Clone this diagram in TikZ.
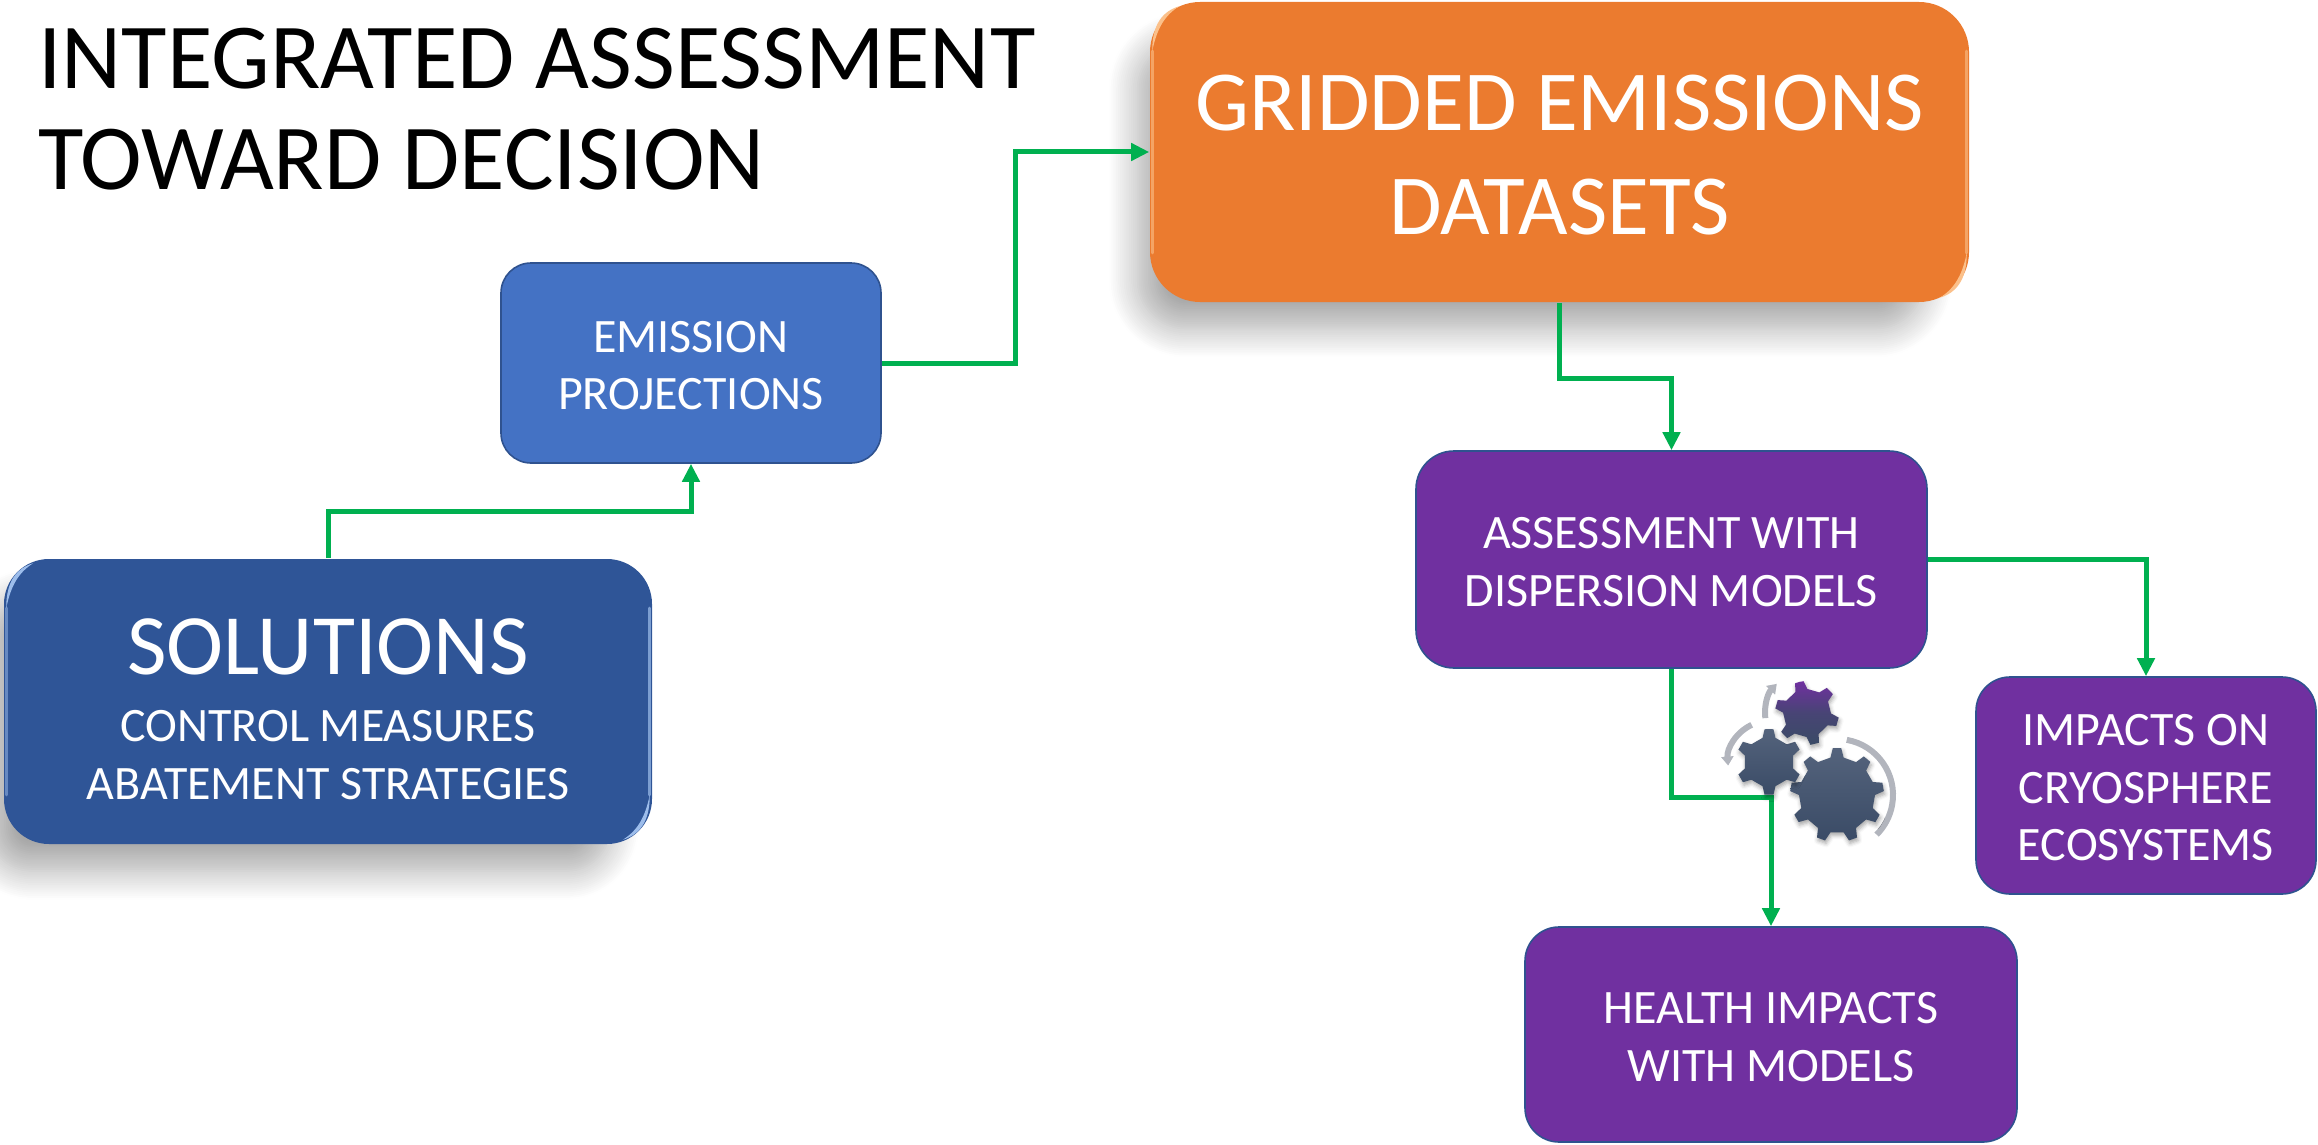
\documentclass[tikz,border=0pt]{standalone}
\usepackage{fontspec}
\setmainfont{Carlito}
\usetikzlibrary{arrows.meta,shadows.blur}

\definecolor{linkgreen}{HTML}{00B050}
\definecolor{boxorange}{HTML}{EB7B2F}
\definecolor{boxblue}{HTML}{4472C4}
\definecolor{boxnavy}{HTML}{2F5597}
\definecolor{boxpurple}{HTML}{7030A0}
\definecolor{boxedge}{HTML}{2F528F}
\definecolor{gearlight}{HTML}{54637C}
\definecolor{geardark}{HTML}{3A4B66}
\definecolor{geararc}{HTML}{B2B5BD}
\definecolor{rimorange}{HTML}{FBC08A}
\definecolor{rimblue}{HTML}{9DBDEB}

\tikzset{
  plainbox/.style={
    rounded corners=#1, draw=boxedge, line width=1.6pt, text=white,
    align=center, inner sep=0pt
  },
  bigbox/.style={
    plainbox=#1, draw=none,
    blur shadow={shadow xshift=-30pt, shadow yshift=-34pt, shadow scale=.96,
      shadow blur radius=30pt, shadow blur steps=16, shadow opacity=34}
  },
  link/.style={
    draw=linkgreen, line width=5pt,
    -{Triangle[length=18pt,width=17pt]}
  },
  rim/.style={line width=#1, line cap=round},
  gearwheel/.style={
    top color=gearlight, bottom color=geardark,
    blur shadow={shadow xshift=1pt, shadow yshift=-3pt,
      shadow blur radius=4pt, shadow opacity=35}
  },
  geartrack/.style={draw=geararc, line width=6pt},
  trackhead/.style={-{Triangle[length=9pt,width=12pt]}}
}

% x y teeth outer inner rotation style
\newcommand{\gear}[7]{
  \pgfmathsetmacro{\gearstep}{360/#3}
  \path[gearwheel, #7] ([shift={(#1,#2)}]#6:#4)
    foreach \k in {1,...,#3}{
      -- ([shift={(#1,#2)}]#6+\k*\gearstep-\gearstep+.13*\gearstep:#4)
      -- ([shift={(#1,#2)}]#6+\k*\gearstep-\gearstep+.25*\gearstep:#5)
      -- ([shift={(#1,#2)}]#6+\k*\gearstep-.25*\gearstep:#5)
      -- ([shift={(#1,#2)}]#6+\k*\gearstep-.13*\gearstep:#4)
    } -- cycle;
}
% anchor colour flip
\newcommand{\rimcorner}[3]{
  \fill[#2, shift={(#1)}, scale=#3]
    (3,50) .. controls (3,22) and (14,10) .. (30,5)
    .. controls (16,14) and (8,26) .. cycle;
}
\newcommand{\capdrop}{\rule{0pt}{36pt}}

\begin{document}
\begin{tikzpicture}[x=1pt,y=-1pt]
\useasboundingbox (0,0) rectangle (2318,1145);

\node[anchor=north west, align=left, inner sep=0pt, font=\fontsize{93}{101}\selectfont]
  (title) at (38,28) {INTEGRATED ASSESSMENT\\TOWARD DECISION};

% boxes
\node[bigbox=50pt, fill=boxorange, minimum width=819pt, minimum height=300pt,
      font=\fontsize{85.5}{104}\selectfont]
  (gridded) at (1559.5,152) {\rule{0pt}{61pt}GRIDDED EMISSIONS\\DATASETS};
\node[bigbox=45pt, fill=boxnavy, minimum width=648pt, minimum height=285pt,
      font=\fontsize{48}{58}\selectfont]
  (solutions) at (328,701.5) {{\fontsize{86}{92}\selectfont SOLUTIONS\rule{0pt}{72pt}}\\[9pt]CONTROL MEASURES\\ABATEMENT STRATEGIES};
\node[plainbox=30pt, fill=boxblue, minimum width=380pt, minimum height=200pt,
      font=\fontsize{48}{57}\selectfont]
  (emission) at (691,363) {\capdrop EMISSION\\PROJECTIONS};
\node[plainbox=38pt, fill=boxpurple, minimum width=511pt, minimum height=217pt,
      font=\fontsize{48}{57.5}\selectfont]
  (assessment) at (1671.5,559.5) {\capdrop ASSESSMENT WITH\\DISPERSION MODELS};
\node[plainbox=34pt, fill=boxpurple, minimum width=340pt, minimum height=217pt,
      font=\fontsize{48}{57.5}\selectfont]
  (impacts) at (2146,785.5) {\capdrop IMPACTS ON\\CRYOSPHERE\\ECOSYSTEMS};
\node[plainbox=34pt, fill=boxpurple, minimum width=492pt, minimum height=215pt,
      font=\fontsize{48}{57.5}\selectfont]
  (health) at (1771,1034.5) {\capdrop HEALTH IMPACTS\\WITH MODELS};

% light rims
\rimcorner{gridded.north west}{rimorange}{1}
\rimcorner{gridded.south east}{rimorange}{-1}
\rimcorner{solutions.north west}{rimblue}{1}
\rimcorner{solutions.south east}{rimblue}{-1}
\draw[rim=3pt, draw=rimorange, opacity=.6]
  ([shift={(3pt,-50pt)}]gridded.north west) -- ([shift={(3pt,50pt)}]gridded.south west);
\draw[rim=3pt, draw=rimorange, opacity=.6]
  ([shift={(-3pt,-50pt)}]gridded.north east) -- ([shift={(-3pt,50pt)}]gridded.south east);
\draw[rim=3pt, draw=rimblue, opacity=.5]
  ([shift={(3pt,-50pt)}]solutions.north west) -- ([shift={(3pt,50pt)}]solutions.south west);
\draw[rim=3pt, draw=rimblue, opacity=.7]
  ([shift={(-3pt,-50pt)}]solutions.north east) -- ([shift={(-3pt,50pt)}]solutions.south east);

% links
\draw[link] (solutions.north) -- ++(0,-47) -| (emission.south);
\draw[link] (emission.east) -- ++(134,0) |- (gridded.west);
\draw[link] (gridded.south) -- ++(0,76) -| (assessment.north);
\draw[link] (assessment.east) -| (impacts.north);
\draw[link] (assessment.south) -- ++(0,129) -| (health.north);

% gears
\draw[geartrack] ([shift={(1837,795)}]-80:56) arc[start angle=-80,end angle=45,radius=56];
\draw[geartrack, trackhead] ([shift={(1769,762)}]-115:41) arc[start angle=-115,end angle=-185,radius=41];
\draw[geartrack, trackhead] ([shift={(1807,713)}]-187:42) arc[start angle=-187,end angle=-136,radius=42];
\gear{1837}{795}{9}{47}{38}{-90}{}
\gear{1769}{762}{6}{33}{25}{-90}{}
\gear{1807}{713}{6}{32}{24}{-104}{top color=boxpurple, bottom color=geardark, middle color=geardark!75!boxpurple}
\end{tikzpicture}
\end{document}
